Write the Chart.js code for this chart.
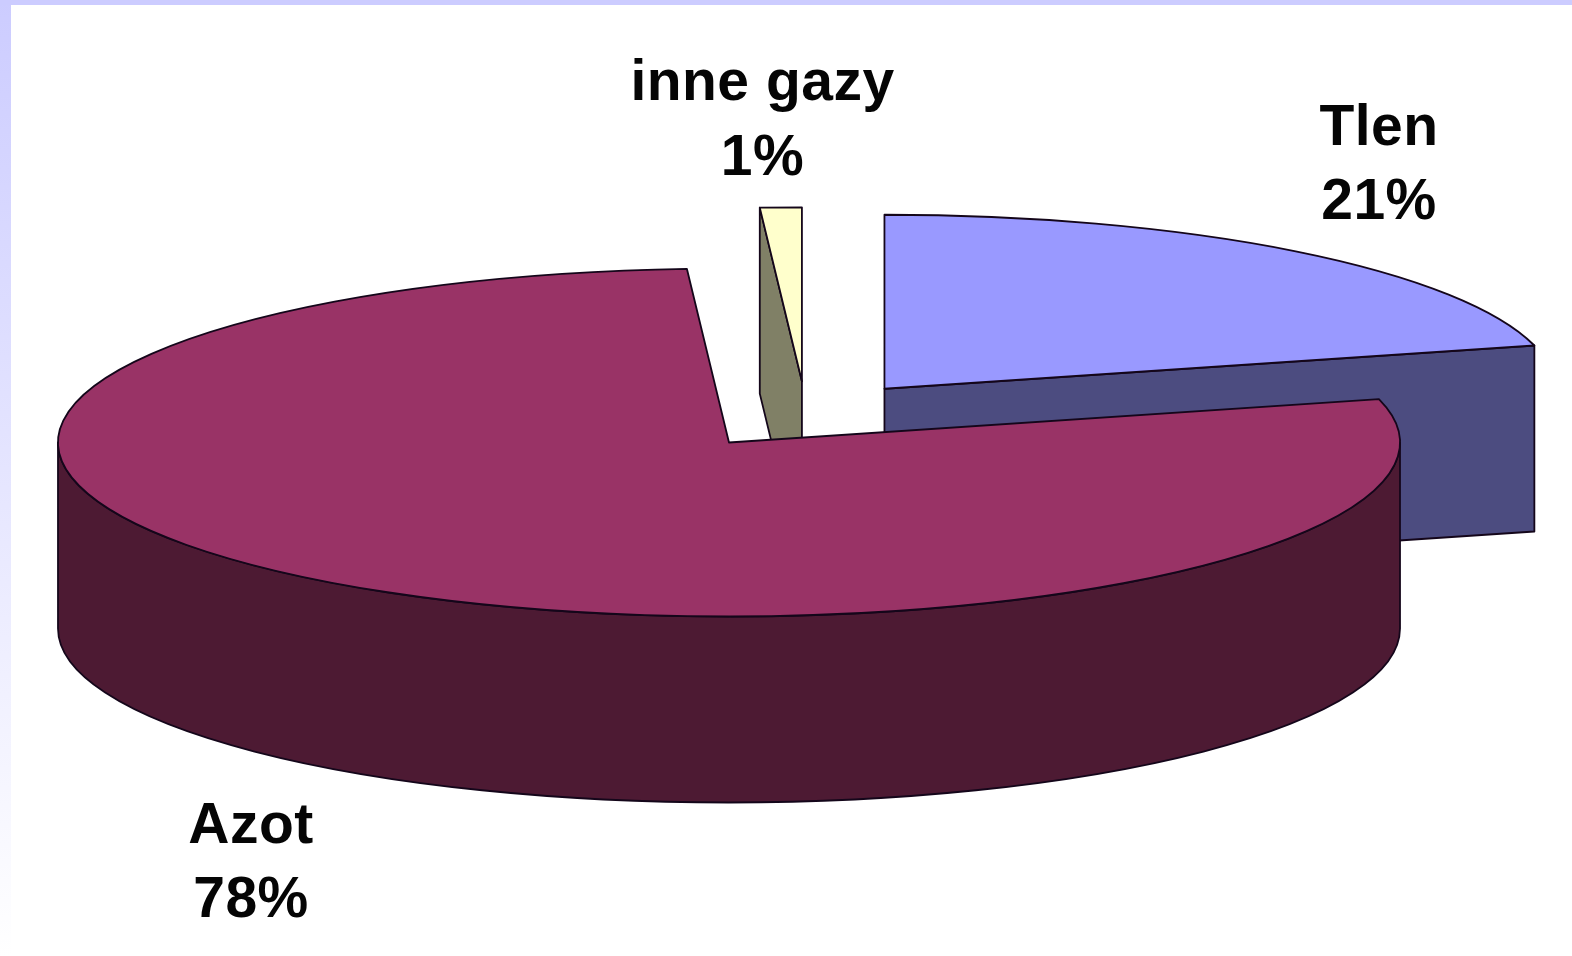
<!DOCTYPE html>
<html>
<head>
<meta charset="utf-8">
<style>
  html, body { margin: 0; padding: 0; width: 1572px; height: 956px; overflow: hidden; background: linear-gradient(to bottom, #ccccff 0%, #ffffff 100%); }
  #panel { position: absolute; left: 11px; top: 5px; right: 0; bottom: 0; background: #ffffff; }
  #topband { position: absolute; left: 0; top: 0; width: 1572px; height: 5px; background: #ccccff; }
  canvas { position: absolute; left: 0; top: 0; display: block; }
</style>
<script src="https://cdn.jsdelivr.net/npm/chart.js@4/dist/chart.umd.js"></script>
</head>
<body>
<div id="topband"></div>
<div id="panel"></div>
<canvas id="c" width="1572" height="956"></canvas>
<script>
const categories = ['Tlen', 'Azot', 'inne gazy'];
const values = [21, 78, 1];
const topColors = ['#9999ff', '#993366', '#ffffcc'];
const sideColors = ['#4c4c80', '#4d1a33', '#808066'];

const view = { cx: 806, cy: 415, rx: 671, ry: 174, depth: 186 };
const explode = [128, 131, 130];
const drawOrder = [0, 2, 1];
const labelAnchors = [
  { x: 1379, y1: 145, y2: 219 },
  { x: 251, y1: 843, y2: 917 },
  { x: 762.5, y1: 100, y2: 175 }
];
const outline = '#14061a';

const pie3d = {
  id: 'pie3d',
  beforeDatasetDraw(chart, args) {
    const ctx = chart.ctx;
    const arcs = chart.getDatasetMeta(args.index).data;
    const R = arcs[0].outerRadius;
    const sx = view.rx / R, sy = view.ry / R;

    drawOrder.forEach(i => {
      const arc = arcs[i];
      const mid = (arc.startAngle + arc.endAngle) / 2;
      const cx = view.cx + Math.cos(mid) * explode[i];
      const cy = view.cy + Math.sin(mid) * explode[i] * (view.ry / view.rx);
      const a0 = arc.startAngle, a1 = arc.endAngle;
      const px = a => cx + view.rx * Math.cos(a);
      const py = a => cy + view.ry * Math.sin(a);

      ctx.save();
      ctx.lineWidth = 1.8;
      ctx.lineJoin = 'round';
      ctx.strokeStyle = outline;
      ctx.fillStyle = sideColors[i];

      // cut face at the start or end of the slice, whichever looks at the viewer
      const faceAngle = Math.sin(a1 + Math.PI / 2) > 0 ? a1 : (Math.sin(a0 - Math.PI / 2) > 0 ? a0 : null);
      if (faceAngle !== null && i !== 1) {
        ctx.beginPath();
        ctx.moveTo(cx, cy);
        ctx.lineTo(px(faceAngle), py(faceAngle));
        ctx.lineTo(px(faceAngle), py(faceAngle) + view.depth);
        ctx.lineTo(cx, cy + view.depth);
        ctx.closePath();
        ctx.fill();
        ctx.stroke();
      }

      // curved outer wall: only the front half of the ellipse is visible
      const w0 = Math.max(a0, 0), w1 = Math.min(a1, Math.PI);
      if (w1 > w0) {
        ctx.beginPath();
        ctx.ellipse(cx, cy, view.rx, view.ry, 0, w0, w1, false);
        ctx.ellipse(cx, cy + view.depth, view.rx, view.ry, 0, w1, w0, true);
        ctx.closePath();
        ctx.fill();
        ctx.stroke();
      }

      // top surface: the library's own arc, flattened into an ellipse
      ctx.save();
      ctx.translate(cx, cy);
      ctx.scale(sx, sy);
      ctx.translate(-arc.x, -arc.y);
      arc.draw(ctx);
      ctx.restore();

      ctx.beginPath();
      ctx.moveTo(cx, cy);
      ctx.ellipse(cx, cy, view.rx, view.ry, 0, a0, a1, false);
      ctx.closePath();
      ctx.stroke();
      ctx.restore();
    });
    return false;
  },
  afterDraw(chart) {
    const ctx = chart.ctx;
    ctx.save();
    ctx.fillStyle = '#050505';
    ctx.font = 'bold 57px "Liberation Sans", Arial, sans-serif';
    ctx.letterSpacing = '0.5px';
    ctx.textAlign = 'center';
    ctx.textBaseline = 'alphabetic';
    categories.forEach((name, i) => {
      const a = labelAnchors[i];
      ctx.fillText(name, a.x, a.y1);
      ctx.fillText(values[i] + '%', a.x, a.y2);
    });
    ctx.restore();
  }
};

new Chart(document.getElementById('c'), {
  type: 'pie',
  data: {
    labels: categories,
    datasets: [{
      data: values,
      backgroundColor: topColors,
      borderWidth: 0
    }]
  },
  options: {
    responsive: false,
    animation: false,
    layout: { padding: 0 },
    plugins: { legend: { display: false }, tooltip: { enabled: false } }
  },
  plugins: [pie3d]
});
</script>
</body>
</html>
